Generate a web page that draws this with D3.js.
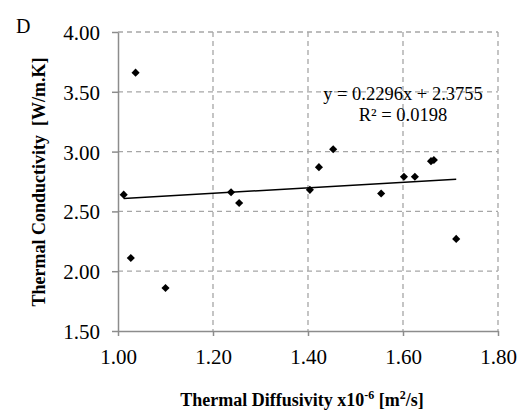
<!DOCTYPE html>
<html>
<head>
<meta charset="utf-8">
<script src="https://cdn.jsdelivr.net/npm/d3@7"></script>
<style>
  body { margin: 0; background: #fff; overflow: hidden; }
  svg { display: block; }
  svg text { font-family: 'Liberation Serif', 'Times New Roman', Times, serif; }
</style>
</head>
<body>
<div id="chart"></div>
<script>
// thermal diffusivity (x10^-6 m2/s)
var diffusivity = [1.012, 1.027, 1.037, 1.100, 1.238, 1.255, 1.404, 1.423, 1.453, 1.554, 1.602, 1.625, 1.659, 1.665, 1.712];
// thermal conductivity (W/m.K)
var conductivity = [2.64, 2.11, 3.66, 1.86, 2.66, 2.57, 2.68, 2.87, 3.02, 2.65, 2.79, 2.79, 2.92, 2.93, 2.27];
var xTicks = [1.00, 1.20, 1.40, 1.60, 1.80];
var yTicks = [1.50, 2.00, 2.50, 3.00, 3.50, 4.00];
var slope = 0.2296, intercept = 2.3755;

var w = 524, h = 414;
var margin = { top: 32, right: 26, bottom: 83, left: 118 };
var innerWidth = w - margin.left - margin.right;
var innerHeight = h - margin.top - margin.bottom;

var data = diffusivity.map((d, i) => ({ x: d, y: conductivity[i] }));

var svg = d3.select("#chart").append("svg")
  .attr("width", w)
  .attr("height", h);

var xScale = d3.scaleLinear().domain([1.0, 1.8]).range([0, innerWidth]);
var yScale = d3.scaleLinear().domain([1.5, 4.0]).range([innerHeight, 0]);

var g = svg.append("g")
  .attr("transform", "translate(" + margin.left + "," + margin.top + ")");

// dashed gridlines
g.selectAll(".hgrid")
  .data(yTicks.slice(1))
  .enter().append("line")
  .attr("x1", 0).attr("x2", innerWidth)
  .attr("y1", d => yScale(d)).attr("y2", d => yScale(d))
  .attr("stroke", "#a6a6a6").attr("stroke-width", 1.3)
  .attr("stroke-dasharray", "5,4");

g.selectAll(".vgrid")
  .data(xTicks.slice(1))
  .enter().append("line")
  .attr("y1", 0).attr("y2", innerHeight)
  .attr("x1", d => xScale(d)).attr("x2", d => xScale(d))
  .attr("stroke", "#a6a6a6").attr("stroke-width", 1.3)
  .attr("stroke-dasharray", "5,4");

// axes
var xAxis = d3.axisBottom(xScale).tickValues(xTicks).tickFormat(d3.format(".2f")).tickSize(5).tickSizeOuter(0);
var yAxis = d3.axisLeft(yScale).tickValues(yTicks).tickFormat(d3.format(".2f")).tickSize(6).tickSizeOuter(0);

var gx = g.append("g")
  .attr("transform", "translate(0," + innerHeight + ")")
  .call(xAxis);
var gy = g.append("g").call(yAxis);

[gx, gy].forEach(function(a) {
  a.attr("font-family", null);
  a.select(".domain").attr("stroke", "#8c8c8c").attr("stroke-width", 1.5);
  a.selectAll(".tick line").attr("stroke", "#8c8c8c").attr("stroke-width", 1.5);
  a.selectAll(".tick text")
    .attr("font-size", "21px")
    .attr("fill", "#000");
});
gx.selectAll(".tick text").attr("y", 33).attr("dy", 0);
gy.selectAll(".tick text").attr("x", -18).attr("dy", "0.36em");

// trendline
var xr = d3.extent(diffusivity);
g.append("line")
  .attr("x1", xScale(xr[0])).attr("y1", yScale(slope * xr[0] + intercept))
  .attr("x2", xScale(xr[1])).attr("y2", yScale(slope * xr[1] + intercept))
  .attr("stroke", "#000").attr("stroke-width", 1.5);

// points
g.selectAll(".pt")
  .data(data)
  .enter().append("path")
  .attr("d", d3.symbol().type(d3.symbolDiamond2).size(42))
  .attr("transform", d => "translate(" + xScale(d.x) + "," + yScale(d.y) + ")")
  .attr("fill", "#000");

// equation
svg.append("text")
  .attr("x", 403).attr("y", 100)
  .attr("text-anchor", "middle")
  .attr("font-size", "18.5px")
  .text("y = 0.2296x + 2.3755");
svg.append("text")
  .attr("x", 403).attr("y", 121)
  .attr("text-anchor", "middle")
  .attr("font-size", "18.5px")
  .text("R² = 0.0198");

// panel letter
svg.append("text")
  .attr("x", 16).attr("y", 33)
  .attr("font-size", "20px")
  .text("D");

// axis titles
svg.append("text")
  .attr("transform", "translate(45," + 182 + ") rotate(-90)")
  .attr("text-anchor", "middle")
  .attr("font-size", "18px")
  .attr("font-weight", "bold")
  .attr("xml:space", "preserve")
  .text("Thermal Conductivity  [W/m.K]");

var xt = svg.append("text")
  .attr("x", 302).attr("y", 406)
  .attr("text-anchor", "middle")
  .attr("font-size", "18px")
  .attr("font-weight", "bold");
xt.append("tspan").text("Thermal Diffusivity x10");
xt.append("tspan").attr("dy", -7).attr("font-size", "12px").text("-6");
xt.append("tspan").attr("dy", 7).text(" [m");
xt.append("tspan").attr("dy", -7).attr("font-size", "12px").text("2");
xt.append("tspan").attr("dy", 7).text("/s]");
</script>
</body>
</html>
